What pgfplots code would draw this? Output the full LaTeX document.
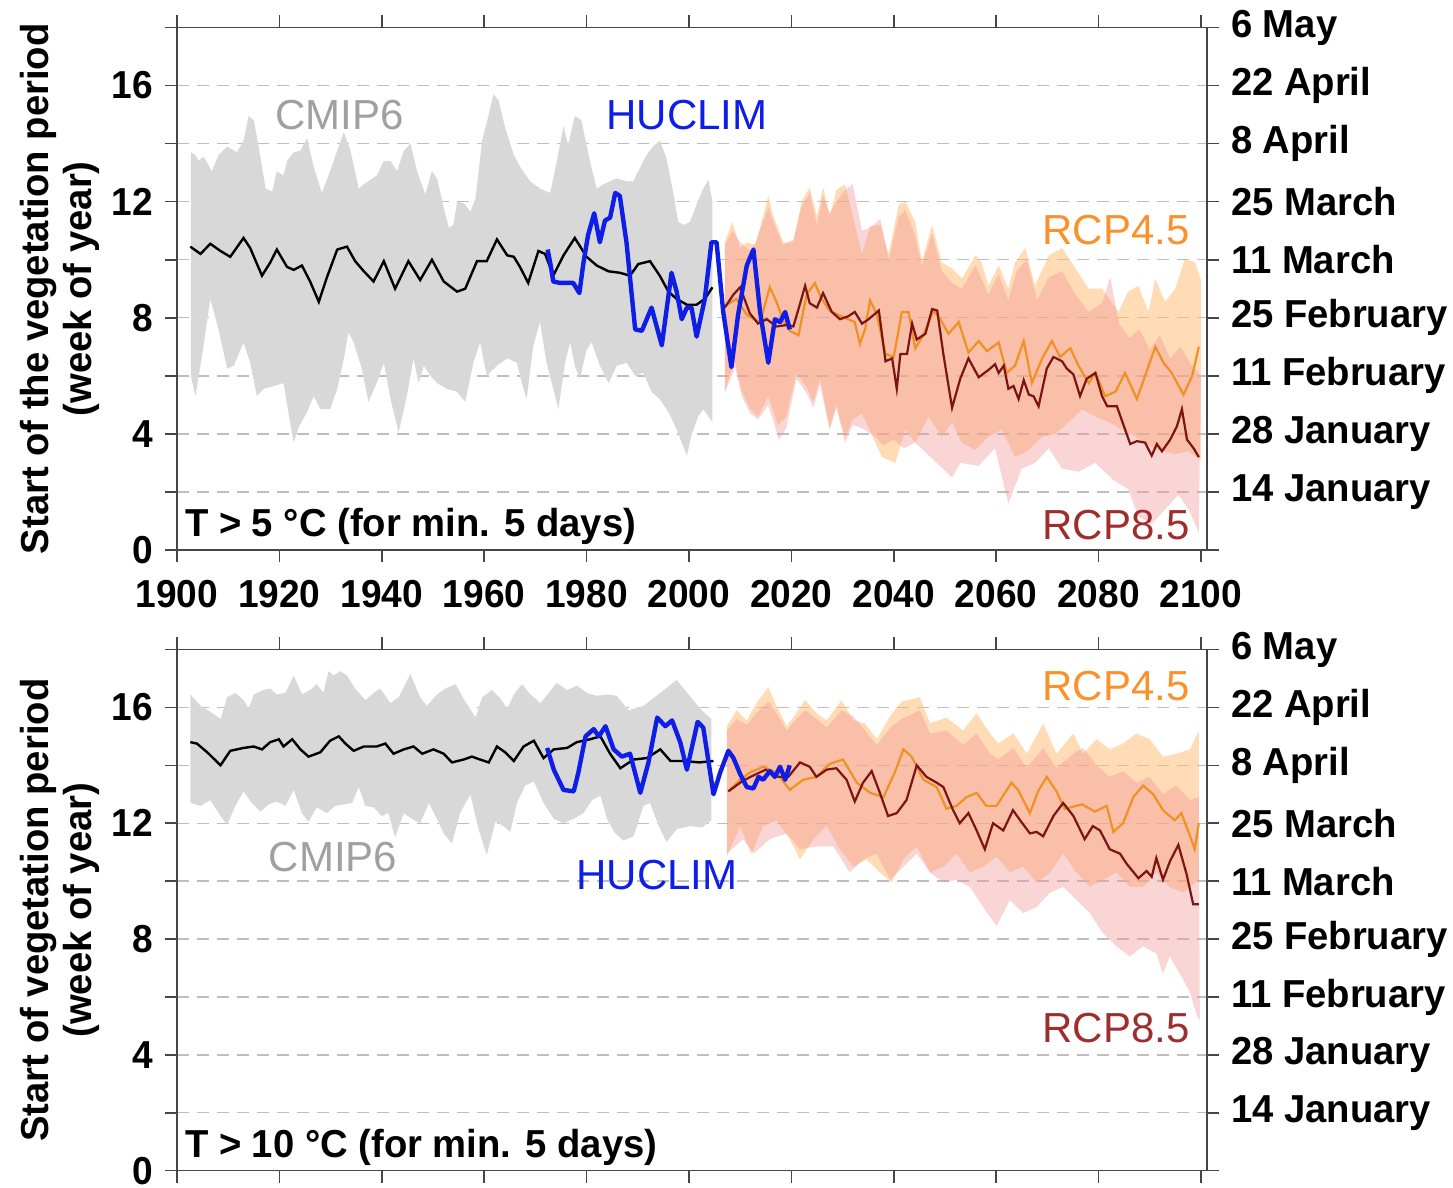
\documentclass[border=0pt]{standalone}
\usepackage{fontspec}
\setmainfont{Liberation Sans}
\newfontfamily\cond{Liberation Sans}[FakeStretch=0.95]
\newfontfamily\condb{Liberation Sans}[FakeStretch=0.98]
\usepackage{pgfplots}
\pgfplotsset{compat=1.18}
\usepgfplotslibrary{fillbetween}

\definecolor{cmipband}{RGB}{216,216,216}
\definecolor{bandA}{RGB}{255,183,110}
\definecolor{bandB}{RGB}{240,150,150}
\definecolor{lineA}{RGB}{240,145,35}
\definecolor{lineB}{RGB}{125,20,20}
\definecolor{huc}{RGB}{15,30,230}
\definecolor{txtgray}{RGB}{160,160,160}
\definecolor{txtorange}{RGB}{250,145,45}
\definecolor{txtred}{RGB}{160,45,45}
\definecolor{gridc}{RGB}{190,190,190}
\definecolor{axc}{RGB}{70,70,70}

\newcommand\lab{\fontsize{19.5}{21.5}\selectfont\cond\bfseries}
\newcommand\labb{\fontsize{19.5}{21.5}\selectfont\condb\bfseries}
\newcommand\ser{\fontsize{21}{24}\selectfont}

\pgfplotsset{
  panel/.style={
    scale only axis, anchor=south west,
    width=515pt,
    xmin=1900, xmax=2101.2, ymin=0, ymax=18,
    xtick={1900,1920,...,2100},
    ytick={0,2,...,18},
    yticklabels={0,,4,,8,,12,,16,},
    xtick pos=both, ytick pos=left,
    tick align=outside, major tick length=6pt,
    tick style={line width=0.8pt, axc},
    axis line style={line width=0.8pt, axc},
    tick label style={font=\lab},
    yticklabel style={xshift=-2.5pt},
    ymajorgrids,
    major grid style={gridc, line width=0.7pt, dash pattern=on 6pt off 4pt},
    every axis y label/.style={at={(rel axis cs:-0.114,0.5)}, rotate=90,
      anchor=center, align=center, font=\labb},
    set layers,
  },
  dates/.style={
    scale only axis, anchor=south west,
    width=515pt,
    xmin=1900, xmax=2101.2, ymin=0, ymax=18,
    axis x line=none, axis y line*=right,
    ytick={0,2,...,18},
    yticklabels={,14 January,28 January,11 February,25 February,11 March,25 March,8 April,22 April,6 May},
    tick align=outside, major tick length=6pt,
    tick style={line width=0.8pt, axc},
    axis line style={line width=0.8pt, axc},
    tick label style={font=\labb},
    yticklabel style={xshift=2.5pt},
  },
}

\begin{document}
\begin{tikzpicture}

% ---------------- top panel: T > 5 C ----------------
\begin{axis}[panel, at={(88.5pt,319pt)}, height=261.25pt,
  xticklabels={1900,1920,1940,1960,1980,2000,2020,2040,2060,2080,2100},
  xticklabel style={yshift=-5.5pt},
  ylabel={Start of the vegetation period\\(week of year)}]

\addplot[draw=none, name path=tcu] coordinates {(1902.7,13.7) (1903.6,13.6) (1904.2,13.4) (1905.2,13.55) (1906.8,13.05) (1908.1,13.6) (1909.8,13.9) (1911.7,13.7) (1913,14.1) (1914,14.95) (1915,14.8) (1916,13.85) (1917.3,12.45) (1918.6,12.35) (1919.5,13.05) (1920.8,12.9) (1921.5,13.4) (1922.8,13.7) (1924.1,13.75) (1925.4,14.2) (1926.7,13.2) (1928.3,12.3) (1929.9,13.05) (1931.3,13.75) (1932.6,14.4) (1933.9,13.75) (1935.5,12.45) (1936.5,12.6) (1937.8,12.75) (1939,12.9) (1940.4,13.4) (1941.7,13.4) (1943,13.05) (1944.3,13.75) (1945.6,14.0) (1946.9,13.05) (1948.5,12.25) (1949.8,13.05) (1950.8,12.8) (1952.1,11.8) (1953.1,11.1) (1954,11.2) (1954.7,12.0) (1956,11.95) (1957.3,11.65) (1958.3,12.1) (1959.6,14.1) (1960.9,15.0) (1961.8,15.7) (1962.8,15.5) (1964.1,14.55) (1965.8,13.6) (1967.2,13.15) (1969,12.7) (1970.9,12.45) (1972.9,12.3) (1974.2,13.4) (1975.5,14.6) (1976.4,13.95) (1977.7,14.95) (1979,14.8) (1980,13.95) (1981,13.15) (1982,12.45) (1983.3,12.6) (1984.6,12.7) (1985.9,12.8) (1987.8,12.7) (1989.1,12.7) (1990.4,13.15) (1991.7,13.6) (1993,13.9) (1994.3,14.1) (1995.6,13.5) (1997,12.25) (1997.9,11.3) (1998.9,11.2) (2000.2,11.3) (2001.5,11.9) (2002.8,12.45) (2003.8,12.75) (2004.6,12.0)};
\addplot[draw=none, name path=tcl] coordinates {(1902.7,6.0) (1903.6,5.3) (1904.9,6.7) (1906.5,8.65) (1908.1,7.6) (1909.8,6.25) (1911.1,6.35) (1913,7.15) (1914.3,6.45) (1915.6,5.3) (1916.9,5.55) (1918.9,5.65) (1920.8,5.75) (1922.1,4.4) (1922.8,3.7) (1923.8,4.25) (1925.4,4.75) (1926.7,5.3) (1928,4.85) (1929.9,4.85) (1931.3,5.55) (1932.6,6.6) (1933.5,7.5) (1934.5,7.15) (1936.1,6.25) (1937.4,5.1) (1939,5.75) (1940.4,6.45) (1941.7,5.2) (1943.3,4.05) (1944.9,5.3) (1946.2,6.6) (1947.2,5.75) (1948.2,6.35) (1949.5,6.0) (1950.8,5.75) (1952.7,5.55) (1954.7,5.45) (1956.3,5.1) (1957.9,6.45) (1959.2,7.15) (1960.5,6.0) (1962.5,6.35) (1964.5,6.6) (1966.4,6.45) (1967.6,5.6) (1968.3,5.2) (1969.6,7.05) (1970.9,7.85) (1972.2,6.45) (1973.5,5.55) (1974.5,4.85) (1975.8,6.45) (1976.8,7.15) (1977.7,6.35) (1978.7,5.9) (1980,6.9) (1981,7.15) (1982.6,6.35) (1984.3,5.75) (1985.9,6.35) (1987.8,6.45) (1989.5,6.0) (1991.1,6.1) (1992.7,5.45) (1994.3,5.2) (1996,4.75) (1997.6,4.15) (1998.6,3.7) (1999.6,3.25) (2000.5,3.95) (2001.8,4.6) (2002.8,4.85) (2003.8,4.6) (2004.6,4.4)};
\addplot[fill=cmipband, draw=none, on layer=axis background] fill between[of=tcu and tcl];

\addplot[draw=none, name path=tau] coordinates {(2007,10.6) (2008.5,11.3) (2010,10.4) (2011.3,10.6) (2013,10.5) (2015.5,12.2) (2016.5,11.5) (2018.4,10.6) (2020.4,10.6) (2022,12.0) (2023.6,12.5) (2025,11.5) (2026.2,12.5) (2027.5,11.5) (2028.8,12.4) (2030.5,12.6) (2032,11.5) (2033.8,10.2) (2035.4,11.15) (2037.4,11.2) (2039,10.2) (2041,11.9) (2042.3,12.0) (2044.2,11.3) (2045.5,9.95) (2047.5,11.2) (2049.4,9.9) (2051.4,9.7) (2053.3,9.35) (2056,10.15) (2057.2,9.9) (2058.5,9.1) (2060.5,9.8) (2062.4,9.0) (2063.7,9.9) (2065.7,10.4) (2067.6,9.1) (2070.3,10.15) (2072.9,10.4) (2075.5,9.7) (2078.1,9.0) (2080.7,9.0) (2083.9,8.2) (2085.8,8.9) (2087.8,9.1) (2089.8,8.2) (2091.1,9.35) (2093,8.55) (2095,9.0) (2096.9,10.05) (2098.9,9.9) (2100,9.3)};
\addplot[draw=none, name path=tal] coordinates {(2007,5.5) (2009,6.5) (2010.3,5.5) (2012,4.85) (2013.5,4.6) (2015.5,5.3) (2017.4,4.3) (2019,4.6) (2021,6.1) (2023,5.6) (2024.3,5.1) (2025.6,5.9) (2027.5,4.2) (2028.8,5.0) (2030.5,3.9) (2032,4.5) (2033.8,4.7) (2036.4,3.7) (2037.7,3.2) (2040.3,3.0) (2042.3,4.15) (2044.2,3.7) (2046.8,4.6) (2049.4,3.9) (2051.4,4.4) (2053.3,3.7) (2055.9,3.45) (2058.5,3.9) (2061.1,4.15) (2063.7,3.2) (2066.4,3.45) (2069,3.9) (2071.6,4.0) (2074.2,4.4) (2076.8,4.85) (2079.4,4.6) (2082,4.4) (2084.6,4.15) (2087.2,3.9) (2089.8,3.6) (2092.4,3.4) (2095,3.3) (2097.5,3.4) (2100,3.1)};
\addplot[fill=bandA, fill opacity=0.5, draw=none, on layer=axis background] fill between[of=tau and tal];

\addplot[draw=none, name path=tbu] coordinates {(2007,10.5) (2008.5,11.0) (2010,10.6) (2012,10.3) (2013,10.6) (2015.5,11.8) (2016.5,11.3) (2018.4,10.5) (2020.4,10.7) (2022,11.8) (2023.6,12.3) (2025,11.2) (2026.2,12.2) (2027.5,11.6) (2028.8,12.0) (2030.5,12.4) (2032,12.6) (2033.8,11.0) (2035.4,11.1) (2037.4,11.4) (2039,10.0) (2041,11.5) (2042.3,11.7) (2044.2,10.8) (2045.5,9.8) (2047.5,10.9) (2049.4,9.6) (2051.4,9.2) (2053.3,9.0) (2056,9.8) (2058.5,8.8) (2060.5,9.5) (2062.4,8.6) (2064,9.6) (2066,10.0) (2068,8.6) (2070.3,9.4) (2072.9,9.6) (2075.5,8.8) (2078.1,8.2) (2080.7,8.5) (2082.3,9.4) (2084,7.8) (2086,7.3) (2088,7.6) (2090,6.9) (2092,7.4) (2094,6.6) (2096,7.0) (2098,6.4) (2100,6.0)};
\addplot[draw=none, name path=tbl] coordinates {(2007,5.4) (2009,6.3) (2010.3,5.3) (2012,4.7) (2013.5,4.5) (2015.5,5.0) (2017.6,3.8) (2019,4.2) (2021,5.9) (2023,5.4) (2024.3,4.9) (2025.6,5.7) (2027.5,4.15) (2028.8,4.9) (2030.5,3.7) (2032,4.3) (2033.8,4.2) (2036.4,3.9) (2038,3.6) (2040,3.8) (2042,3.5) (2044.2,3.7) (2046,3.4) (2049,2.9) (2051.4,2.5) (2053,3.0) (2056.6,2.9) (2059.8,3.5) (2062.4,1.6) (2065,2.8) (2067.6,3.0) (2070.3,3.5) (2072.9,2.8) (2076.1,2.7) (2079.4,3.0) (2083,2.4) (2085.8,2.1) (2087.8,1.15) (2090.4,0.9) (2093,1.4) (2095.6,1.9) (2097.6,1.4) (2099.6,0.6)};
\addplot[fill=bandB, fill opacity=0.4, draw=none, on layer=axis background] fill between[of=tbu and tbl];

% CMIP6 ensemble mean
\addplot[black, line width=1.2pt] coordinates {(1902.6,10.45) (1904.6,10.2) (1906.5,10.55) (1908.5,10.3) (1910.4,10.1) (1913,10.75) (1914.3,10.4) (1916.6,9.45) (1918.2,9.9) (1919.5,10.35) (1921.5,9.75) (1922.8,9.65) (1924.4,9.8) (1926,9.25) (1927.7,8.55) (1929.3,9.4) (1931.3,10.35) (1933.2,10.45) (1934.8,9.95) (1936.5,9.6) (1938.4,9.25) (1940.4,9.95) (1942.6,9.0) (1945.2,9.95) (1947.5,9.3) (1949.8,10.0) (1952.1,9.25) (1954.7,8.9) (1956.3,9.0) (1958.6,9.95) (1960.5,9.95) (1962.5,10.7) (1964.5,10.15) (1965.8,10.1) (1967,9.75) (1968.6,9.2) (1970.6,10.3) (1971.9,10.2) (1973.5,9.45) (1975.5,10.15) (1977.7,10.75) (1980,10.1) (1982,9.8) (1984.3,9.6) (1986.5,9.55) (1988.5,9.45) (1990.1,9.85) (1992.4,9.95) (1994.3,9.45) (1996,8.9) (1997.6,8.65) (1999.6,8.45) (2001.5,8.45) (2003.1,8.65) (2004.6,9.05)};

% RCP4.5
\addplot[lineA, line width=1.1pt] coordinates {(2007,8.4) (2009.3,8.65) (2011.3,8.1) (2013.9,7.85) (2015.8,9.05) (2017.1,8.55) (2018.4,7.9) (2019.7,7.55) (2021.4,7.4) (2023,8.8) (2024.6,9.2) (2025.9,8.65) (2027.5,8.25) (2029.2,8.1) (2031.1,7.95) (2032.4,7.85) (2033.4,7.1) (2034.4,7.6) (2035.4,8.6) (2036.7,8.1) (2038.4,6.75) (2040,6.65) (2041.6,8.2) (2042.9,8.2) (2044.2,6.95) (2045.8,7.4) (2047.8,8.25) (2049.1,7.95) (2050.7,7.45) (2052.7,7.85) (2054.6,6.8) (2056.6,7.2) (2058.2,6.85) (2060.5,7.15) (2062.1,6.1) (2063.7,6.35) (2065.4,7.2) (2067,5.75) (2069,6.6) (2070.9,7.2) (2072.5,6.65) (2074.5,6.95) (2076.1,6.35) (2078.1,5.75) (2079.4,6.1) (2081.3,5.3) (2083.3,5.45) (2085.2,6.1) (2087.5,5.2) (2089.1,6.0) (2091.1,7.0) (2092.7,6.45) (2094.3,6.1) (2096.6,5.35) (2098.3,6.0) (2099.6,7.0)};

% RCP8.5
\addplot[lineB, line width=1.1pt] coordinates {(2007,8.35) (2008.7,8.8) (2010,9.05) (2011.9,8.15) (2013.5,7.8) (2015.2,7.95) (2017.1,7.7) (2019.1,7.75) (2020.4,7.7) (2021.4,8.3) (2022.7,9.1) (2023.6,8.5) (2025,8.35) (2026.2,8.85) (2027.9,8.2) (2029.5,7.95) (2031.1,8.05) (2032.4,8.2) (2033.8,7.8) (2035.1,7.95) (2037.1,8.25) (2038.4,6.5) (2039.7,6.6) (2040.6,5.55) (2041.3,6.75) (2042.6,6.75) (2043.6,7.8) (2044.5,7.25) (2046.2,7.45) (2047.5,8.3) (2048.5,8.25) (2049.7,6.75) (2051.4,4.9) (2053,5.9) (2054.6,6.6) (2056.6,5.95) (2058.5,6.2) (2059.8,6.4) (2060.5,6.1) (2061.5,6.35) (2062.4,5.55) (2063.4,5.65) (2064.4,5.2) (2065.4,5.85) (2066.4,5.35) (2067.3,5.3) (2068.3,4.95) (2069.9,6.25) (2071.2,6.65) (2072.9,6.5) (2073.8,6.25) (2075.1,6.05) (2076.4,5.3) (2077.7,5.9) (2079.4,6.1) (2080.7,5.3) (2081.7,4.95) (2083.6,4.95) (2085.2,4.15) (2086.2,3.65) (2087.5,3.75) (2089.1,3.7) (2090.4,3.25) (2091.4,3.65) (2092.4,3.4) (2094,3.8) (2095.3,4.25) (2096.3,4.85) (2097.3,3.8) (2098.6,3.5) (2099.6,3.2)};

% HUCLIM
\addplot[huc, line width=2.2pt, line join=round] coordinates {(1972.4,10.35) (1972.9,9.9) (1973.5,9.25) (1974.8,9.2) (1976.1,9.2) (1977.4,9.2) (1978.6,8.85) (1979.4,9.9) (1980.3,10.85) (1981.5,11.6) (1982.6,10.6) (1983.6,11.35) (1984.6,11.45) (1985.6,12.3) (1986.5,12.2) (1987.8,10.6) (1989.5,7.6) (1990.8,7.55) (1992.7,8.35) (1994.7,7.05) (1996.6,9.55) (1997.6,8.9) (1998.6,7.95) (1999.6,8.35) (2000.5,8.35) (2001.5,7.35) (2003.1,8.65) (2004.4,10.6) (2005.4,10.6) (2006.7,8.2) (2008.3,6.3) (2009.6,8.1) (2011.3,9.8) (2012.6,10.35) (2013.9,8.2) (2015.5,6.45) (2016.8,7.95) (2017.8,7.85) (2018.8,8.2) (2019.7,7.6)};

\node[font=\ser, txtgray] at (axis cs:1931.8,14.98) {CMIP6};
\node[font=\ser, huc] at (axis cs:1999.6,14.98) {HUCLIM};
\node[font=\ser, txtorange, anchor=east, inner sep=0pt] at (axis cs:2097.9,11.02) {RCP4.5};
\node[font=\ser, txtred, anchor=east, inner sep=0pt] at (axis cs:2097.9,0.86) {RCP8.5};
\node[font=\labb, anchor=base west, inner sep=0pt] at (axis cs:1901.5,0.45) {T > 5 °C (for min. 5 days)};
\end{axis}
\begin{axis}[dates, at={(88.5pt,319pt)}, height=261.25pt]
\end{axis}

% ---------------- bottom panel: T > 10 C ----------------
\begin{axis}[panel, at={(88.5pt,8.65pt)}, height=260.6pt,
  xticklabels={},
  ylabel={Start of vegetation period\\(week of year)}]

\addplot[draw=none, name path=bcu] coordinates {(1902.6,16.45) (1904.6,16.05) (1906.5,15.85) (1908.5,15.6) (1909.8,16.35) (1911.4,16.5) (1913,16.25) (1914,15.95) (1915,16.45) (1916.9,16.6) (1918.2,16.65) (1919.5,16.45) (1921.2,16.5) (1922.8,17.1) (1924.4,16.45) (1926,16.6) (1927.3,16.8) (1928.6,16.5) (1929.6,17.25) (1930.6,17.1) (1931.9,17.25) (1933.2,17.1) (1934.8,16.65) (1936.8,16.25) (1938.4,16.5) (1939.7,16.65) (1941.7,16.15) (1943.3,16.35) (1945.6,17.15) (1947.5,16.35) (1948.8,16.05) (1950.8,16.45) (1952.4,16.65) (1954.4,16.8) (1956,16.3) (1958.3,15.65) (1959.6,16.35) (1961.5,16.6) (1963.2,16.3) (1964.5,15.95) (1965.8,16.45) (1967.4,16.8) (1969,16.45) (1971,16.15) (1972.6,16.5) (1974.2,16.85) (1976.2,16.6) (1978.1,16.75) (1980.1,16.5) (1982,16.4) (1984,16.45) (1985.9,16.4) (1988.2,15.9) (1991.1,16.05) (1994.4,16.5) (1997.6,16.95) (2000.6,16.3) (2002.5,15.9) (2004.4,15.6)};
\addplot[draw=none, name path=bcl] coordinates {(1902.6,12.7) (1904.6,12.6) (1906.5,12.8) (1908.5,12.25) (1909.8,11.95) (1911.4,12.6) (1913,13.1) (1914.6,12.7) (1916.3,12.4) (1917.9,12.65) (1919.5,12.75) (1921.2,12.6) (1922.8,13.15) (1924.4,12.35) (1925.7,12.05) (1927.3,12.55) (1929.3,12.35) (1930.9,12.6) (1932.6,12.65) (1934.2,12.7) (1935.5,13.25) (1936.8,12.6) (1938.4,12.55) (1940,12.25) (1941.3,12.35) (1942.6,11.5) (1944.3,12.35) (1945.9,12.15) (1947.5,12.0) (1949.2,12.7) (1950.8,12.15) (1952.1,11.65) (1953.7,11.3) (1955.3,12.35) (1957.3,13.0) (1958.9,11.8) (1960.5,10.9) (1962.2,12.05) (1963.8,11.9) (1965.1,11.7) (1966.4,12.7) (1968,13.3) (1969.7,13.45) (1971.6,12.7) (1973.6,12.15) (1975.5,12.0) (1977.5,12.15) (1979.4,12.35) (1981.1,12.8) (1982.7,12.95) (1984,12.15) (1985.6,11.65) (1987.2,11.4) (1989.2,11.55) (1991.1,12.6) (1992.4,12.7) (1994.1,11.9) (1995.6,11.35) (1997.7,11.8) (2000.3,11.9) (2002.5,11.85) (2004.4,12.1)};
\addplot[fill=cmipband, draw=none, on layer=axis background] fill between[of=bcu and bcl];

\addplot[draw=none, name path=bau] coordinates {(2007.4,15.35) (2009.3,15.9) (2011.3,15.55) (2013.2,16.15) (2015.5,16.7) (2017.1,16.05) (2019.1,15.35) (2021,15.8) (2022.7,16.25) (2024.9,15.8) (2026.9,15.55) (2029.8,16.25) (2032.1,15.55) (2034.4,15.45) (2036.7,14.9) (2039.3,15.7) (2041.5,16.2) (2045.1,16.35) (2047.1,15.45) (2050.3,15.65) (2053.6,15.2) (2056.2,15.8) (2058.8,15.1) (2060.4,14.75) (2063.4,15.1) (2066,14.4) (2069.2,15.45) (2071.8,14.4) (2075.1,15.1) (2077,14.4) (2079.6,14.9) (2082.2,14.55) (2084.8,14.75) (2087.4,15.1) (2090,14.9) (2092.6,14.3) (2095.2,14.4) (2097.9,14.55) (2099.6,15.2)};
\addplot[draw=none, name path=bal] coordinates {(2007.4,10.85) (2010,11.9) (2012.2,10.95) (2014.5,11.9) (2017.1,12.1) (2019.7,11.45) (2021.7,10.75) (2024.3,11.45) (2026.9,11.9) (2029.5,11.1) (2032.1,10.5) (2034.7,10.75) (2037.3,10.3) (2039.6,9.95) (2041.9,10.75) (2044.5,11.2) (2047.1,10.3) (2049.7,10.5) (2052.3,10.95) (2054.9,10.3) (2057.5,10.5) (2060.1,10.85) (2062.7,10.3) (2065.3,10.5) (2067.9,9.95) (2070.5,10.3) (2073.1,10.95) (2075.7,10.3) (2078.3,9.8) (2080.9,10.05) (2083.5,10.3) (2086.1,9.8) (2088.7,9.8) (2091.3,10.3) (2093.9,9.8) (2096.6,9.6) (2099.6,10.05)};
\addplot[fill=bandA, fill opacity=0.5, draw=none, on layer=axis background] fill between[of=bau and bal];

\addplot[draw=none, name path=bbu] coordinates {(2007.4,15.2) (2009.3,15.6) (2011.3,15.4) (2013.2,15.8) (2015.5,16.2) (2017.1,15.8) (2019.1,15.2) (2021,15.6) (2022.7,15.9) (2024.9,15.6) (2026.9,15.3) (2029.8,15.9) (2032.1,15.7) (2034.4,15.2) (2036.7,14.7) (2039.3,15.3) (2041.5,15.6) (2045.1,15.9) (2047.1,15.1) (2050.3,15.2) (2053.6,14.7) (2056.2,15.1) (2058.8,14.4) (2060.4,14.2) (2063.4,14.6) (2066,13.9) (2069.2,14.6) (2071.8,13.9) (2075.1,14.4) (2077,14.6) (2079.6,14.0) (2082.2,13.6) (2084.8,13.8) (2087.4,13.4) (2090,13.6) (2092.6,13.0) (2095.2,13.3) (2097.9,12.8) (2099.6,12.9)};
\addplot[draw=none, name path=bbl] coordinates {(2007.4,10.95) (2010.6,11.45) (2012.6,10.95) (2015.8,11.45) (2019.1,11.65) (2021.7,11.1) (2024.9,11.2) (2028.2,11.2) (2031.4,10.3) (2034,10.75) (2036.7,10.95) (2039.3,10.05) (2041.9,10.5) (2044.5,10.95) (2047.1,10.3) (2049.7,9.95) (2052.3,10.05) (2054.9,9.8) (2057.5,9.1) (2060.1,8.45) (2062.7,9.35) (2065.3,8.9) (2067.9,9.1) (2070.5,9.6) (2073.1,9.8) (2075.7,9.35) (2078.3,8.9) (2080.9,8.2) (2083.5,7.75) (2086.1,7.4) (2088.7,7.75) (2091.3,7.5) (2092.6,6.8) (2093.9,7.4) (2095.9,6.8) (2097.9,6.15) (2099.2,5.35) (2099.8,5.2)};
\addplot[fill=bandB, fill opacity=0.4, draw=none, on layer=axis background] fill between[of=bbu and bbl];

\addplot[black, line width=1.2pt] coordinates {(1902.6,14.8) (1903.9,14.75) (1905.9,14.45) (1908.5,14.0) (1910.4,14.5) (1913,14.6) (1915,14.65) (1916.6,14.55) (1918.2,14.8) (1919.9,14.9) (1920.8,14.65) (1922.5,14.9) (1924.1,14.55) (1925.7,14.3) (1928,14.45) (1929.9,14.85) (1931.6,15.0) (1932.9,14.75) (1934.5,14.5) (1936.5,14.65) (1939,14.65) (1940.7,14.75) (1942.3,14.4) (1944.3,14.55) (1946.2,14.65) (1947.9,14.4) (1950.1,14.55) (1952.1,14.4) (1953.7,14.1) (1956,14.2) (1957.6,14.3) (1959.2,14.2) (1960.9,14.1) (1962.5,14.65) (1964.1,14.45) (1965.8,14.15) (1967.7,14.65) (1969.7,14.85) (1971.6,14.25) (1973.6,14.55) (1976.2,14.6) (1978.1,14.8) (1980.7,14.9) (1982.7,15.0) (1984.6,14.4) (1986.6,13.9) (1989.2,14.2) (1991.8,14.25) (1994.4,14.55) (1996.4,14.15) (1999,14.15) (2002,14.1) (2004.8,14.15)};

\addplot[lineA, line width=1.1pt] coordinates {(2007.7,13.1) (2010,13.5) (2011.9,13.75) (2014.5,13.95) (2017.1,13.75) (2019.7,13.15) (2022.3,13.5) (2024.9,13.6) (2027.5,14.05) (2030.1,14.2) (2032.8,13.4) (2035.4,13.05) (2038,12.9) (2040.2,13.75) (2041.9,14.55) (2043.5,14.3) (2045.8,13.5) (2048.4,13.25) (2050.3,12.5) (2052.3,12.6) (2054.2,12.9) (2056.2,13.05) (2058.1,12.6) (2060.1,12.6) (2063,13.4) (2064.3,13.15) (2066.6,12.35) (2068.2,13.1) (2069.9,13.6) (2071.8,13.1) (2073.4,12.5) (2076.8,12.65) (2079.3,12.4) (2081.6,12.6) (2082.9,11.7) (2084.8,12.0) (2086.8,12.9) (2088.7,13.3) (2090.7,13.0) (2092.6,12.45) (2094.9,12.1) (2096.2,12.35) (2097.9,11.55) (2098.8,11.1) (2099.6,12.0)};

\addplot[lineB, line width=1.1pt] coordinates {(2007.7,13.1) (2010,13.4) (2012,13.6) (2015,13.85) (2017.5,13.6) (2019.4,13.6) (2021.7,14.1) (2023.6,13.95) (2024.9,13.6) (2026.9,13.85) (2028.8,13.9) (2030.8,13.5) (2032.4,12.75) (2034,13.4) (2035.7,13.8) (2037.3,13.05) (2038.9,12.25) (2040.6,12.35) (2042.5,12.8) (2044.5,14.0) (2046.4,13.6) (2048.4,13.4) (2049.7,13.25) (2051.6,12.45) (2052.9,12.0) (2054.6,12.35) (2056.2,11.75) (2057.8,11.1) (2059.4,12.0) (2061.4,11.75) (2063.3,12.45) (2064.7,12.1) (2066.6,11.65) (2067.9,11.7) (2069.2,11.55) (2071.2,12.25) (2073.1,12.7) (2075.1,12.25) (2077.3,11.45) (2078.9,11.9) (2080.3,11.75) (2082.2,11.1) (2084.2,10.95) (2085.5,10.6) (2087.8,10.1) (2089.4,10.35) (2090.4,10.15) (2091.3,10.8) (2092.6,10.05) (2094,10.7) (2095.6,11.25) (2097.2,10.25) (2098.5,9.2) (2099.6,9.2)};

\addplot[huc, line width=2.2pt, line join=round] coordinates {(1972.3,14.6) (1973.6,13.85) (1975.5,13.15) (1977.5,13.1) (1978.4,13.75) (1979.8,15.0) (1981.4,15.25) (1982.4,15.0) (1983.7,15.35) (1985.3,14.55) (1986.9,14.3) (1988.5,14.4) (1990.5,13.05) (1992.1,14.1) (1993.8,15.65) (1995.4,15.35) (1996.7,15.55) (1998.3,14.8) (1999.6,13.85) (2001.7,15.5) (2002.8,15.3) (2004.8,13.0) (2006.1,13.75) (2007.7,14.5) (2008.7,14.25) (2010,13.7) (2011.3,13.25) (2012.6,13.2) (2013.6,13.6) (2014.5,13.5) (2015.8,13.8) (2016.8,13.6) (2017.8,13.95) (2018.8,13.5) (2019.7,14.0)};

\node[font=\ser, txtorange, anchor=east, inner sep=0pt] at (axis cs:2097.9,16.74) {RCP4.5};
\node[font=\ser, txtgray] at (axis cs:1930.5,10.83) {CMIP6};
\node[font=\ser, huc] at (axis cs:1993.75,10.21) {HUCLIM};
\node[font=\ser, txtred, anchor=east, inner sep=0pt] at (axis cs:2097.9,4.93) {RCP8.5};
\node[font=\labb, anchor=base west, inner sep=0pt] at (axis cs:1901.5,0.47) {T > 10 °C (for min. 5 days)};
\end{axis}
\begin{axis}[dates, at={(88.5pt,8.65pt)}, height=260.6pt]
\end{axis}

\pgfresetboundingbox
\useasboundingbox (0,0) rectangle (726.5pt,594pt);
\end{tikzpicture}
\end{document}
